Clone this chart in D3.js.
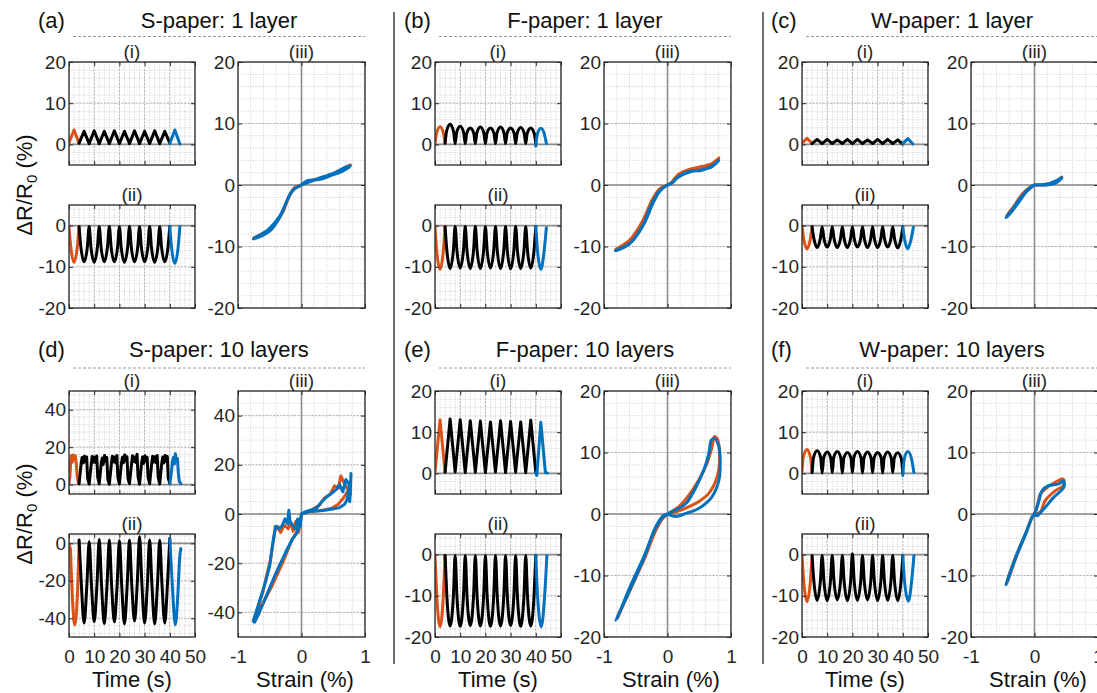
<!DOCTYPE html>
<html>
<head>
<meta charset="utf-8">
<script src="https://cdn.jsdelivr.net/npm/d3@7"></script>
<style>
body { margin: 0; background: #fff; }
svg { display: block; }
</style>
</head>
<body>
<svg id="chart" width="1097" height="693"></svg>
<script>
// ---- labels / ticks ----
var panelLabels = ["(a)", "(b)", "(c)", "(d)", "(e)", "(f)"];
var panelTitles = ["S-paper: 1 layer", "F-paper: 1 layer", "W-paper: 1 layer",
                   "S-paper: 10 layers", "F-paper: 10 layers", "W-paper: 10 layers"];
var timeTicks = [0, 10, 20, 30, 40, 50];
var strainTicks = [-1, 0, 1];
var yTicksI = [0, 10, 20];
var yTicksII = [-20, -10, 0];
var yTicksIII = [-20, -10, 0, 10, 20];
var yTicksDI = [0, 20, 40];
var yTicksDII = [-40, -20, 0];
var yTicksDIII = [-40, -20, 0, 20, 40];

// ---- (a) S-paper 1 layer ----
var aI_orange = [[0,0.4],[2,3.5],[4,0.3]];
var aI_black = [[4,0.3],[6,3.2],[8,0.2],[10,3.3],[12,0.2],[14,3.2],[16,0.2],[18,3.3],[20,0.2],[22,3.2],[24,0.2],[26,3.3],[28,0.2],[30,3.2],[32,0.2],[34,3.3],[36,0.2],[38,3.2],[40,0.3]];
var aI_blue = [[40,0.2],[42,3.5],[44,0.1]];
var aII_orange = [[0,-0.3],[0.7,-5.2],[2,-8.9],[3.3,-5.2],[4,-0.3]];
var aII_black = [[4,-0.3],[4.7,-5.1],[6,-8.8],[7.3,-5.1],[8,-0.2],[8.7,-5.2],[10,-8.9],[11.3,-5.1],[12,-0.3],[12.7,-5.1],[14,-8.8],[15.3,-5.0],[16,-0.2],[16.7,-5.1],[18,-8.8],[19.3,-5.1],[20,-0.3],[20.7,-5.2],[22,-8.9],[23.3,-5.1],[24,-0.2],[24.7,-5.1],[26,-8.8],[27.3,-5.1],[28,-0.3],[28.7,-5.1],[30,-8.8],[31.3,-5.1],[32,-0.2],[32.7,-5.2],[34,-8.9],[35.3,-5.1],[36,-0.3],[36.7,-5.1],[38,-8.8],[39.3,-5.1],[40,-0.2]];
var aII_blue = [[40,-0.2],[40.7,-5.3],[42,-9.2],[43.3,-5.3],[44,-0.2]];
var aIII_orange = [[0,0],[0.1,0.6],[0.3,1.0],[0.5,1.8],[0.65,2.4],[0.77,3.3],[0.62,2.5],[0.45,1.6],[0.25,1.0],[0.08,0.5],[0,0],[-0.09,-0.3],[-0.16,-1.1],[-0.22,-2.4],[-0.32,-4.8],[-0.5,-7.2],[-0.75,-8.6],[-0.48,-7.0],[-0.3,-4.5],[-0.2,-2.0],[-0.12,-0.7],[0,0]];
var aIII_blue = [[0,0],[0.09,0.7],[0.28,0.9],[0.48,1.6],[0.64,2.2],[0.77,3.1],[0.7,2.9],[0.5,1.9],[0.3,1.2],[0.1,0.4],[0,0],[-0.1,-0.5],[-0.17,-1.3],[-0.24,-2.8],[-0.34,-5.2],[-0.5,-7.5],[-0.76,-8.8],[-0.52,-7.2],[-0.34,-5.0],[-0.23,-2.6],[-0.14,-0.9],[0,0]];

// ---- (b) F-paper 1 layer ----
var bI_orange = [[0,0],[0.6,2.7],[2,4.3],[3.4,2.6],[4,0.3]];
var bI_black = [[4,0.3],[4.6,3.2],[6,4.9],[7.4,3.0],[8,0.2],[8.6,2.9],[10,4.4],[11.4,2.8],[12,0.2],[12.6,2.7],[14,4.0],[15.4,2.7],[16,0.2],[16.6,2.8],[18,4.2],[19.4,2.7],[20,0.2],[20.6,2.7],[22,4.0],[23.4,2.7],[24,0.2],[24.6,2.8],[26,4.2],[27.4,2.7],[28,0.2],[28.6,2.7],[30,4.0],[31.4,2.7],[32,0.2],[32.6,2.7],[34,4.1],[35.4,2.7],[36,0.2],[36.6,2.7],[38,4.0],[39.4,2.6],[40,0.1]];
var bI_blue = [[40,-0.4],[40.6,2.4],[42,3.9],[43.4,2.5],[44.2,0.2]];
var bII_orange = [[0,-0.2],[0.7,-6.2],[2,-10.6],[3.3,-6.2],[4,-0.3]];
var bII_black = [[4,-0.3],[4.7,-6.0],[6,-10.4],[7.3,-6.0],[8,-0.2],[8.7,-6.0],[10,-10.3],[11.3,-6.0],[12,-0.2],[12.7,-6.0],[14,-10.4],[15.3,-6.0],[16,-0.2],[16.7,-6.0],[18,-10.4],[19.3,-6.0],[20,-0.3],[20.7,-6.0],[22,-10.3],[23.3,-6.0],[24,-0.2],[24.7,-6.0],[26,-10.4],[27.3,-6.0],[28,-0.2],[28.7,-6.1],[30,-10.5],[31.3,-6.0],[32,-0.2],[32.7,-6.0],[34,-10.4],[35.3,-6.0],[36,-0.3],[36.7,-6.0],[38,-10.3],[39.3,-6.0],[40,-0.2]];
var bII_blue = [[40,-0.2],[40.7,-6.2],[42,-10.6],[43.3,-6.2],[44.2,-0.5]];
var bIII_orange = [[0,0],[0.09,0.6],[0.17,1.4],[0.33,2.3],[0.54,2.8],[0.69,3.3],[0.81,4.4],[0.7,3.5],[0.54,3.0],[0.33,2.5],[0.17,1.7],[0.06,0.4],[0,0],[-0.08,-0.4],[-0.15,-1.0],[-0.25,-2.6],[-0.4,-6.0],[-0.6,-9.0],[-0.82,-10.5],[-0.6,-9.3],[-0.4,-6.4],[-0.24,-2.4],[-0.12,-0.6],[0,0]];
var bIII_blue = [[0,0],[0.08,0.4],[0.16,1.2],[0.32,2.0],[0.54,2.5],[0.69,2.9],[0.81,4.0],[0.72,3.2],[0.54,2.4],[0.33,2.2],[0.17,1.3],[0.06,0.2],[0,0],[-0.08,-0.6],[-0.14,-1.3],[-0.23,-3.0],[-0.38,-6.5],[-0.58,-9.4],[-0.82,-10.7],[-0.6,-9.6],[-0.4,-6.8],[-0.24,-2.9],[-0.12,-0.9],[0,0]];

// ---- (c) W-paper 1 layer ----
var cI_orange = [[0,0.3],[2,1.5],[4,0.2]];
var cI_black = [[4,0.2],[6,1.2],[8,0.2],[10,1.2],[12,0.2],[14,1.1],[16,0.2],[18,1.2],[20,0.2],[22,1.2],[24,0.2],[26,1.1],[28,0.2],[30,1.2],[32,0.2],[34,1.2],[36,0.2],[38,1.1],[40,0.1]];
var cI_blue = [[40,0.2],[42,1.4],[44,0.1]];
var cII_orange = [[0,-0.1],[0.7,-3.3],[2,-5.6],[3.3,-3.3],[4,-0.3]];
var cII_black = [[4,-0.3],[4.7,-3.1],[6,-5.3],[7.3,-3.1],[8,-0.3],[8.7,-3.1],[10,-5.2],[11.3,-3.1],[12,-0.3],[12.7,-3.1],[14,-5.3],[15.3,-3.1],[16,-0.3],[16.7,-3.1],[18,-5.3],[19.3,-3.1],[20,-0.3],[20.7,-3.1],[22,-5.2],[23.3,-3.1],[24,-0.3],[24.7,-3.1],[26,-5.3],[27.3,-3.1],[28,-0.3],[28.7,-3.1],[30,-5.3],[31.3,-3.1],[32,-0.3],[32.7,-3.1],[34,-5.2],[35.3,-3.1],[36,-0.3],[36.7,-3.1],[38,-5.4],[39.3,-3.1],[40,-0.3]];
var cII_blue = [[40,-0.3],[40.7,-3.3],[42,-5.6],[43.3,-3.3],[44.2,-0.4]];
var cIII_orange = [[0,0],[0.17,0.05],[0.3,0.25],[0.4,0.9],[0.43,1.3],[0.36,0.7],[0.25,0.2],[0.1,0],[0,0],[-0.09,-0.5],[-0.2,-1.6],[-0.33,-3.5],[-0.44,-5.0],[-0.36,-4.2],[-0.24,-2.4],[-0.1,-0.7],[0,0]];
var cIII_blue = [[0,0],[0.17,0],[0.3,0.2],[0.4,0.8],[0.43,1.2],[0.36,0.8],[0.25,0.3],[0.1,0.05],[0,0],[-0.1,-0.7],[-0.22,-2.1],[-0.35,-4.0],[-0.45,-5.3],[-0.38,-4.6],[-0.26,-3.0],[-0.12,-1.0],[0,0]];

// ---- (d) S-paper 10 layers ----
var dI_orange = [[0,0.6],[0.4,5],[0.7,13],[1.0,15.6],[1.3,12],[1.7,15.8],[2.1,13.5],[2.5,15.4],[2.9,11],[3.3,4],[3.7,1],[4,0.6]];
var dI_black = [[4,0.5],[4.8,11],[5.2,14.5],[5.6,11.5],[6.1,15.2],[6.6,12.3],[7.0,14.8],[7.4,3.5],
  [8,0.3],[8.8,10.5],[9.2,15],[9.6,12],[10.1,14.6],[10.6,11.8],[11.0,15.3],[11.4,4],
  [12,0.5],[12.8,11.5],[13.2,14.2],[13.6,10.8],[14.1,15.5],[14.6,12.5],[15.0,14.5],[15.4,3],
  [16,0.2],[16.8,10.8],[17.2,15.1],[17.6,12.2],[18.1,14.8],[18.6,11.5],[19.0,15.6],[19.4,3.8],
  [20,0.4],[20.8,11.2],[21.2,14.6],[21.6,11.7],[22.1,15.8],[22.6,12.8],[23.0,14.9],[23.4,3.2],
  [24,0.6],[24.8,10.6],[25.2,15.4],[25.6,12.4],[26.1,14.7],[26.6,11.9],[27.0,16.2],[27.4,4.2],
  [28,0.3],[28.8,11.4],[29.2,14.8],[29.6,11.3],[30.1,15.4],[30.6,12.6],[31.0,14.6],[31.4,3.6],
  [32,0.5],[32.8,10.9],[33.2,15.2],[33.6,12.1],[34.1,14.9],[34.6,11.7],[35.0,15.6],[35.4,3.9],
  [36,0.4],[36.8,11.3],[37.2,14.7],[37.6,11.6],[38.1,15.6],[38.6,12.4],[39.0,15.1],[39.4,3.4],[40,0.5]];
var dI_blue = [[40,0.5],[40.6,6],[41,12],[41.4,14.5],[41.8,11],[42.2,16.5],[42.6,13],[43,14],[43.4,6],[43.8,1.5],[44.4,0.6]];
var dII_orange = [[0,-0.5],[0.3,-4.5],[0.5,-2],[0.9,-15],[1.5,-33],[2.3,-43.5],[3.0,-36],[3.6,-18],[4,0.5]];
var dII_black = [[4,1.8],[4.9,-22],[6,-42.5],[7.1,-22],[8,0.9],[8.9,-22],[10,-41.8],[11.1,-22],[12,2.1],[12.9,-22],[14,-42.8],[15.1,-22],[16,1.8],[16.9,-22],[18,-42],[19.1,-22],[20,1.4],[20.9,-22],[22,-43],[23.1,-22],[24,1.8],[24.9,-22],[26,-41.5],[27.1,-21],[28,3.5],[28.9,-21],[30,-42.5],[31.1,-22],[32,1.8],[32.9,-22],[34,-43],[35.1,-22],[36,1.6],[36.9,-22],[38,-42.5],[39.1,-21],[40,2.6]];
var dII_blue = [[40,2.6],[40.9,-20],[42.2,-43.5],[43.2,-27],[43.9,-8],[44.4,-2.8]];
var dIII_orange = [[0,0],[0.1,0.9],[0.22,1.2],[0.35,1.6],[0.48,2.4],[0.58,4],[0.66,6.5],[0.72,9],[0.74,6.5],[0.76,13],[0.77,8],[0.73,10],[0.68,12],[0.62,15.5],[0.58,10.5],[0.52,11.5],[0.45,8],[0.36,6.5],[0.28,3.5],[0.18,2],[0.08,0.7],[0,0],
  [-0.02,-4],[-0.05,-7.5],[-0.09,-3],[-0.13,-7],[-0.17,-3.5],[-0.21,-6],[-0.27,-4.5],[-0.33,-7.5],[-0.38,-5],[-0.42,-7],[-0.45,-12],[-0.49,-19],[-0.55,-25],[-0.6,-31],[-0.66,-36],[-0.72,-41],[-0.75,-43],[-0.7,-41],[-0.6,-36],[-0.46,-29],[-0.3,-20],[-0.15,-10.5],[-0.08,-7.5],[-0.03,-5],[0,0]];
var dIII_blue = [[0,0],[0.12,1],[0.3,1.3],[0.45,1.8],[0.6,2.6],[0.68,4],[0.72,6],[0.75,11],[0.76,5],[0.78,16.5],[0.77,10],[0.74,12.5],[0.7,14],[0.65,9],[0.6,12],[0.55,10],[0.48,8.5],[0.4,7],[0.32,5],[0.24,2.5],[0.14,1.5],[0.05,0.8],[0,0],
  [-0.02,-5],[-0.06,-2],[-0.1,-6],[-0.14,-4.5],[-0.18,-3],[-0.2,1.5],[-0.22,-4],[-0.26,-2],[-0.31,-5],[-0.36,-6],[-0.41,-5],[-0.44,-10],[-0.47,-15],[-0.5,-21],[-0.56,-27],[-0.62,-32],[-0.68,-37],[-0.73,-41],[-0.76,-43.5],[-0.74,-44],[-0.68,-41],[-0.6,-36],[-0.5,-30],[-0.42,-25],[-0.32,-19.5],[-0.22,-14],[-0.15,-10.5],[-0.08,-8],[-0.04,-5.5],[0,0]];

// ---- (e) F-paper 10 layers ----
var eI_orange = [[0,0.3],[2,13],[4,0.3]];
var eI_black = [[4,0.3],[6,13.2],[8,0.3],[10,13.0],[12,0.2],[14,12.8],[16,0.3],[18,12.7],[20,0.2],[22,12.5],[24,0.3],[26,12.8],[28,0.2],[30,12.6],[32,0.3],[34,12.5],[36,0.2],[38,12.9],[40,0.2]];
var eI_blue = [[40,0.2],[40.4,-0.5],[42,12.4],[43.8,0.2],[44.6,0.1]];
var eII_orange = [[0,-0.2],[0.7,-10],[2,-17.5],[3.3,-10],[4,-0.2]];
var eII_black = [[4,-0.2],[4.7,-10],[6,-17.3],[7.3,-10],[8,-0.2],[8.7,-10],[10,-17.4],[11.3,-10],[12,-0.2],[12.7,-10],[14,-17.2],[15.3,-10],[16,-0.2],[16.7,-10],[18,-17.3],[19.3,-10],[20,-0.2],[20.7,-10],[22,-17.4],[23.3,-10],[24,-0.2],[24.7,-10],[26,-17.3],[27.3,-10],[28,-0.2],[28.7,-10],[30,-17.2],[31.3,-10],[32,-0.2],[32.7,-10],[34,-17.4],[35.3,-10],[36,-0.2],[36.7,-10],[38,-17.3],[39.3,-10],[40,-0.2]];
var eII_blue = [[40,-0.2],[40.7,-10],[42.2,-17.5],[43.5,-10],[44.4,-0.3]];
var eIII_orange = [[0,0],[0.18,0.5],[0.34,1.2],[0.49,2.0],[0.65,3.35],[0.78,6],[0.82,9.3],[0.78,12.3],[0.74,12.6],[0.70,10.9],[0.62,8.2],[0.49,5.5],[0.34,3.1],[0.18,1.2],[0,0],[-0.08,-0.8],[-0.19,-2.8],[-0.37,-7.4],[-0.58,-12.2],[-0.8,-17],[-0.77,-16.5],[-0.57,-11.7],[-0.36,-7.2],[-0.18,-2.4],[-0.07,-0.5],[0,0]];
var eIII_blue = [[0,0],[0.13,-0.4],[0.29,0.1],[0.49,0.9],[0.7,2.8],[0.81,5.5],[0.83,8.2],[0.81,10.9],[0.74,12.3],[0.69,12],[0.65,9.8],[0.57,7.1],[0.44,4.2],[0.29,1.7],[0.13,0.65],[0,0],[-0.1,-0.8],[-0.21,-2.8],[-0.39,-7.6],[-0.6,-12.5],[-0.81,-17.3],[-0.78,-16.6],[-0.58,-11.6],[-0.37,-6.9],[-0.19,-2.2],[-0.08,-0.4],[0,0]];

// ---- (f) W-paper 10 layers ----
var fI_orange = [[0,0.3],[0.4,3.6],[2,5.8],[3.4,3.8],[4,0.3]];
var fI_black = [[4,0.2],[4.6,3.9],[6,5.5],[7.4,3.9],[8,0.1],[8.6,3.8],[10,5.2],[11.4,3.8],[12,0.2],[12.6,3.9],[14,5.3],[15.4,3.8],[16,0.1],[16.6,3.7],[18,5.1],[19.4,3.8],[20,0.2],[20.6,3.9],[22,5.3],[23.4,3.8],[24,0.1],[24.6,3.8],[26,5.2],[27.4,3.7],[28,0.2],[28.6,3.7],[30,5.1],[31.4,3.8],[32,0.1],[32.6,3.8],[34,5.2],[35.4,3.7],[36,0.2],[36.6,3.7],[38,5.0],[39.4,3.6],[40,0.1]];
var fI_blue = [[40,-0.5],[40.6,3.6],[42,5.3],[43.4,3.7],[44.4,0.2]];
var fII_orange = [[0,-0.2],[0.7,-6.6],[2,-11.4],[3.3,-6.6],[4,-0.3]];
var fII_black = [[4,-0.3],[4.7,-6.4],[6,-11.1],[7.3,-6.4],[8,-0.2],[8.7,-6.4],[10,-11.2],[11.3,-6.4],[12,-0.2],[12.7,-6.4],[14,-11.0],[15.3,-6.4],[16,-0.2],[16.7,-6.4],[18,-11.2],[19.3,-6.4],[20,0.2],[20.7,-6.4],[22,-11.1],[23.3,-6.4],[24,-0.2],[24.7,-6.4],[26,-11.0],[27.3,-6.4],[28,-0.2],[28.7,-6.4],[30,-11.2],[31.3,-6.4],[32,-0.2],[32.7,-6.4],[34,-11.1],[35.3,-6.4],[36,-0.2],[36.7,-6.4],[38,-11.2],[39.3,-6.4],[40,-0.3]];
var fII_blue = [[40,-0.3],[40.7,-6.5],[42.2,-11.3],[43.5,-6.5],[44.4,-0.3]];
var fIII_orange = [[0,0],[0.09,0.3],[0.17,2.2],[0.33,3.8],[0.45,4.6],[0.46,5.6],[0.43,5.7],[0.3,5.0],[0.22,4.5],[0.09,3.2],[0.05,1.5],[0,0],[-0.04,-0.5],[-0.13,-3.0],[-0.29,-6.8],[-0.44,-11.2],[-0.42,-10.8],[-0.27,-6.5],[-0.12,-2.7],[-0.03,-0.3],[0,0]];
var fIII_blue = [[0,0],[0.04,-0.3],[0.1,0.3],[0.17,1.1],[0.3,2.7],[0.46,4.3],[0.47,5.0],[0.46,5.4],[0.38,4.9],[0.22,4.6],[0.12,3.8],[0.07,2.2],[0.03,0.8],[0,0],[-0.04,-0.6],[-0.14,-3.3],[-0.3,-7.2],[-0.45,-11.5],[-0.43,-11.0],[-0.28,-6.6],[-0.13,-2.9],[-0.03,-0.4],[0,0]];

// ---- style ----
var font = "'Liberation Sans', Arial, Helvetica, sans-serif";
var ink = "#262626";
var orange = "#D95319", blue = "#0072BD", black = "#000000";
var colX = [0, 366, 733];
var rowY = [0, 329];
var svg = d3.select("#chart").attr("font-family", font);
var clipCount = 0;

function steps(lo, hi, step) {
    var out = [];
    for (var k = Math.ceil(lo / step - 1e-9); k * step <= hi + 1e-9; k++) {
        out.push(+(k * step).toFixed(6));
    }
    return out;
}

function fmt(d) { return String(d); }

function styleAxis(g) {
    g.select(".domain").remove();
    g.attr("font-family", font).attr("font-size", 19);
    g.selectAll("line").attr("stroke", ink).attr("stroke-width", 1);
    g.selectAll("text").attr("fill", ink);
}

function subplot(p) {
    var x = d3.scaleLinear().domain(p.xDomain).range([p.left, p.left + p.width]);
    var y = d3.scaleLinear().domain(p.yDomain).range([p.top + p.height, p.top]);
    var g = svg.append("g");
    var id = "clip" + (clipCount++);
    g.append("clipPath").attr("id", id).append("rect")
        .attr("x", p.left).attr("y", p.top).attr("width", p.width).attr("height", p.height);

    // grid (minor then major)
    var grid = g.append("g").attr("clip-path", "url(#" + id + ")");
    function vlines(vals, color, dash) {
        grid.selectAll(null).data(vals).enter().append("line")
            .attr("x1", function(d) { return x(d); }).attr("x2", function(d) { return x(d); })
            .attr("y1", p.top).attr("y2", p.top + p.height)
            .attr("stroke", color).attr("stroke-width", 1).attr("stroke-dasharray", dash);
    }
    function hlines(vals, color, dash) {
        grid.selectAll(null).data(vals).enter().append("line")
            .attr("y1", function(d) { return y(d); }).attr("y2", function(d) { return y(d); })
            .attr("x1", p.left).attr("x2", p.left + p.width)
            .attr("stroke", color).attr("stroke-width", 1).attr("stroke-dasharray", dash);
    }
    vlines(steps(p.xDomain[0], p.xDomain[1], p.xMinor), "#cfcfcf", "1,1.5");
    hlines(steps(p.yDomain[0], p.yDomain[1], p.yMinor), "#cfcfcf", "1,1.5");
    vlines(p.xTicks, "#b4b4b4", "2,1.5");
    hlines(steps(p.yDomain[0], p.yDomain[1], p.yMajor), "#b4b4b4", "2,1.5");

    // zero lines
    grid.append("line").attr("x1", p.left).attr("x2", p.left + p.width)
        .attr("y1", y(0)).attr("y2", y(0)).attr("stroke", "#8c8c8c").attr("stroke-width", 1.6);
    if (p.xZero) {
        grid.append("line").attr("x1", x(0)).attr("x2", x(0))
            .attr("y1", p.top).attr("y2", p.top + p.height).attr("stroke", "#8c8c8c").attr("stroke-width", 1.6);
    }

    // data
    var plot = g.append("g").attr("clip-path", "url(#" + id + ")");
    p.series.forEach(function(s) {
        var line = d3.line()
            .x(function(d) { return x(d[0]); })
            .y(function(d) { return y(d[1]); })
            .curve(s.curve);
        plot.append("path").datum(s.data)
            .attr("d", line)
            .attr("fill", "none")
            .attr("stroke", s.color)
            .attr("stroke-width", 3)
            .attr("stroke-linejoin", "round")
            .attr("stroke-linecap", "round");
    });

    // ticks, inward on all sides
    g.append("g").attr("transform", "translate(" + p.left + ",0)")
        .call(d3.axisLeft(y).tickValues(p.yTicks).tickSize(-4).tickPadding(3).tickFormat(fmt))
        .call(styleAxis);
    g.append("g").attr("transform", "translate(" + (p.left + p.width) + ",0)")
        .call(d3.axisRight(y).tickValues(p.yTicks).tickSize(-4).tickFormat(""))
        .call(styleAxis);
    g.append("g").attr("transform", "translate(0," + p.top + ")")
        .call(d3.axisTop(x).tickValues(p.xTicks).tickSize(-4).tickFormat(""))
        .call(styleAxis);
    g.append("g").attr("transform", "translate(0," + (p.top + p.height) + ")")
        .call(d3.axisBottom(x).tickValues(p.xTicks).tickSize(-4).tickPadding(13)
              .tickFormat(p.showX ? fmt : ""))
        .call(styleAxis);

    // box
    g.append("rect").attr("x", p.left).attr("y", p.top)
        .attr("width", p.width).attr("height", p.height)
        .attr("fill", "none").attr("stroke", ink).attr("stroke-width", 1.3);

    // sub title
    g.append("text").attr("x", p.left + p.width / 2).attr("y", p.top - 4)
        .attr("text-anchor", "middle").attr("font-size", 19).attr("fill", ink)
        .text(p.sub);
}

var linear = d3.curveLinear;
var smooth = d3.curveMonotoneX;
var loop = d3.curveCatmullRom.alpha(0.5);

var panels = [
    {i: [aI_orange, aI_black, aI_blue], iCurve: linear, ii: [aII_orange, aII_black, aII_blue], iiCurve: smooth,
     iii: [aIII_orange, aIII_blue], iiiCurve: loop, iY: [-5, 20], iiY: [-20, 5], iiiY: [-20, 20],
     iT: yTicksI, iiT: yTicksII, iiiT: yTicksIII, minorI: 2, minorIII: 2, majorI: 10, majorIII: 10},
    {i: [bI_orange, bI_black, bI_blue], iCurve: smooth, ii: [bII_orange, bII_black, bII_blue], iiCurve: smooth,
     iii: [bIII_orange, bIII_blue], iiiCurve: loop, iY: [-5, 20], iiY: [-20, 5], iiiY: [-20, 20],
     iT: yTicksI, iiT: yTicksII, iiiT: yTicksIII, minorI: 2, minorIII: 2, majorI: 10, majorIII: 10},
    {i: [cI_orange, cI_black, cI_blue], iCurve: linear, ii: [cII_orange, cII_black, cII_blue], iiCurve: smooth,
     iii: [cIII_orange, cIII_blue], iiiCurve: loop, iY: [-5, 20], iiY: [-20, 5], iiiY: [-20, 20],
     iT: yTicksI, iiT: yTicksII, iiiT: yTicksIII, minorI: 2, minorIII: 2, majorI: 10, majorIII: 10},
    {i: [dI_orange, dI_black, dI_blue], iCurve: linear, ii: [dII_orange, dII_black, dII_blue], iiCurve: smooth,
     iii: [dIII_orange, dIII_blue], iiiCurve: linear, iY: [-5, 50], iiY: [-50, 5], iiiY: [-50, 50],
     iT: yTicksDI, iiT: yTicksDII, iiiT: yTicksDIII, minorI: 4, minorIII: 5, majorI: 20, majorIII: 20},
    {i: [eI_orange, eI_black, eI_blue], iCurve: linear, ii: [eII_orange, eII_black, eII_blue], iiCurve: smooth,
     iii: [eIII_orange, eIII_blue], iiiCurve: loop, iY: [-5, 20], iiY: [-20, 5], iiiY: [-20, 20],
     iT: yTicksI, iiT: yTicksII, iiiT: yTicksIII, minorI: 2, minorIII: 2, majorI: 10, majorIII: 10},
    {i: [fI_orange, fI_black, fI_blue], iCurve: smooth, ii: [fII_orange, fII_black, fII_blue], iiCurve: smooth,
     iii: [fIII_orange, fIII_blue], iiiCurve: loop, iY: [-5, 20], iiY: [-20, 5], iiiY: [-20, 20],
     iT: yTicksI, iiT: yTicksII, iiiT: yTicksIII, minorI: 2, minorIII: 2, majorI: 10, majorIII: 10}
];

var tsColors = [orange, black, blue];
var loopColors = [orange, blue];

panels.forEach(function(pn, k) {
    var col = k % 3, row = Math.floor(k / 3);
    var dx = colX[col], dy = rowY[row];
    var bottom = row === 1;

    // panel header
    svg.append("text").attr("x", dx + 38).attr("y", dy + 28)
        .attr("font-size", 22).attr("fill", "#111").text(panelLabels[k]);
    svg.append("text").attr("x", dx + 219).attr("y", dy + 28)
        .attr("text-anchor", "middle").attr("font-size", 22).attr("fill", "#111").text(panelTitles[k]);
    svg.append("line").attr("x1", dx + 73).attr("x2", dx + 365)
        .attr("y1", dy + (bottom ? 39 : 36.5)).attr("y2", dy + (bottom ? 39 : 36.5))
        .attr("stroke", "#9a9a9a").attr("stroke-width", 1).attr("stroke-dasharray", "3,2");

    subplot({left: dx + 69, top: dy + 62, width: 126, height: 103,
             xDomain: [0, 50], xTicks: timeTicks, xMinor: 2,
             yDomain: pn.iY, yTicks: pn.iT, yMinor: pn.minorI, yMajor: pn.majorI,
             showX: false, xZero: false, sub: "(i)",
             series: pn.i.map(function(d, j) { return {data: d, color: tsColors[j], curve: pn.iCurve}; })});
    subplot({left: dx + 69, top: dy + 205, width: 126, height: 103,
             xDomain: [0, 50], xTicks: timeTicks, xMinor: 2,
             yDomain: pn.iiY, yTicks: pn.iiT, yMinor: pn.minorI, yMajor: pn.majorI,
             showX: bottom, xZero: false, sub: "(ii)",
             series: pn.ii.map(function(d, j) { return {data: d, color: tsColors[j], curve: pn.iiCurve}; })});
    subplot({left: dx + 238, top: dy + 62, width: 127, height: 246,
             xDomain: [-1, 1], xTicks: strainTicks, xMinor: 0.2,
             yDomain: pn.iiiY, yTicks: pn.iiiT, yMinor: pn.minorIII, yMajor: pn.majorIII,
             showX: bottom, xZero: true, sub: "(iii)",
             series: pn.iii.map(function(d, j) { return {data: d, color: loopColors[j], curve: pn.iiiCurve}; })});

    if (bottom) {
        svg.append("text").attr("x", dx + 132).attr("y", 687)
            .attr("text-anchor", "middle").attr("font-size", 22).attr("fill", "#111").text("Time (s)");
        svg.append("text").attr("x", dx + 305).attr("y", 687)
            .attr("text-anchor", "middle").attr("font-size", 22).attr("fill", "#111").text("Strain (%)");
    }
    if (col === 0) {
        var lab = svg.append("text")
            .attr("transform", "translate(32," + (dy + 185) + ") rotate(-90)")
            .attr("text-anchor", "middle").attr("font-size", 22).attr("fill", "#111");
        lab.append("tspan").text("\u0394R/R");
        lab.append("tspan").attr("font-size", 15).attr("dy", 5).text("0");
        lab.append("tspan").attr("dy", -5).text(" (%)");
    }
});

// column dividers
[394, 763].forEach(function(xx) {
    svg.append("line").attr("x1", xx).attr("x2", xx).attr("y1", 12).attr("y2", 664)
        .attr("stroke", "#404040").attr("stroke-width", 1.5);
});
</script>
</body>
</html>
